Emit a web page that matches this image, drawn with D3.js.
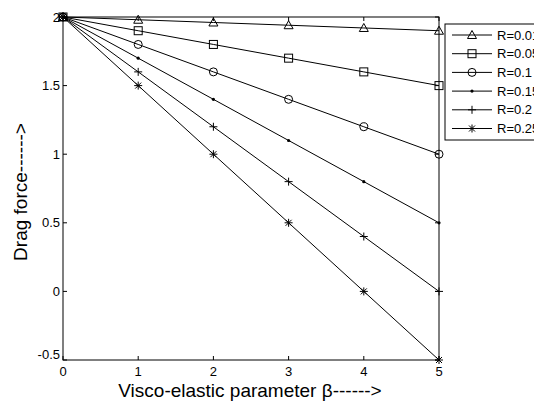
<!DOCTYPE html>
<html>
<head>
<meta charset="utf-8">
<script src="https://cdn.jsdelivr.net/npm/d3@7"></script>
<style>
  html, body { margin: 0; padding: 0; background: #fff; }
  svg { display: block; }
</style>
</head>
<body>
<svg id="chart" width="534" height="402"></svg>
<script>
// Drag force versus visco-elastic parameter for several R values
const betaValues = [0, 1, 2, 3, 4, 5];
const seriesNames = ["R=0.01", "R=0.05", "R=0.1", "R=0.15", "R=0.2", "R=0.25"];
const seriesMarkers = ["triangle", "square", "circle", "dot", "plus", "star"];
const dragR001 = [2, 1.98, 1.96, 1.94, 1.92, 1.90];
const dragR005 = [2, 1.9, 1.8, 1.7, 1.6, 1.5];
const dragR010 = [2, 1.8, 1.6, 1.4, 1.2, 1.0];
const dragR015 = [2, 1.7, 1.4, 1.1, 0.8, 0.5];
const dragR020 = [2, 1.6, 1.2, 0.8, 0.4, 0.0];
const dragR025 = [2, 1.5, 1.0, 0.5, 0.0, -0.5];
const xTicks = [0, 1, 2, 3, 4, 5];
const yTicks = [-0.5, 0, 0.5, 1, 1.5, 2];

const seriesValues = [dragR001, dragR005, dragR010, dragR015, dragR020, dragR025];

(function () {
const svg = d3.select("#chart");
const font = "Arial, 'Liberation Sans', Helvetica, sans-serif";

const plotLeft = 63, plotRight = 439, plotTop = 17, plotBottom = 360;
const x = d3.scaleLinear().domain([0, 5]).range([plotLeft, plotRight]);
const y = d3.scaleLinear().domain([-0.5, 2]).range([plotBottom, plotTop]);

// Marker drawing
function drawMarker(g, type, cx, cy) {
  const s = 4;
  if (type === "triangle") {
    g.append("path")
      .attr("d", `M${cx},${cy - s - 0.5}L${cx + s + 0.5},${cy + s - 0.5}L${cx - s - 0.5},${cy + s - 0.5}Z`)
      .attr("fill", "none").attr("stroke", "#000").attr("stroke-width", 1);
  } else if (type === "square") {
    g.append("rect").attr("x", cx - s).attr("y", cy - s).attr("width", 2 * s).attr("height", 2 * s)
      .attr("fill", "none").attr("stroke", "#000").attr("stroke-width", 1);
  } else if (type === "circle") {
    g.append("circle").attr("cx", cx).attr("cy", cy).attr("r", s)
      .attr("fill", "none").attr("stroke", "#000").attr("stroke-width", 1);
  } else if (type === "dot") {
    g.append("circle").attr("cx", cx).attr("cy", cy).attr("r", 1.6).attr("fill", "#000");
  } else if (type === "plus") {
    g.append("path").attr("d", `M${cx - s},${cy}H${cx + s}M${cx},${cy - s}V${cy + s}`)
      .attr("stroke", "#000").attr("stroke-width", 1);
  } else if (type === "star") {
    const d = s * 0.75;
    g.append("path")
      .attr("d", `M${cx - s},${cy}H${cx + s}M${cx},${cy - s}V${cy + s}M${cx - d},${cy - d}L${cx + d},${cy + d}M${cx - d},${cy + d}L${cx + d},${cy - d}`)
      .attr("stroke", "#000").attr("stroke-width", 1);
  }
}

// Axes box with inward ticks
const axisG = svg.append("g");
axisG.append("rect").attr("x", plotLeft).attr("y", plotTop)
  .attr("width", plotRight - plotLeft).attr("height", plotBottom - plotTop)
  .attr("fill", "none").attr("stroke", "#000").attr("stroke-width", 1);

const tickLen = 4;
xTicks.forEach(t => {
  const px = x(t);
  axisG.append("line").attr("x1", px).attr("x2", px).attr("y1", plotBottom).attr("y2", plotBottom - tickLen)
    .attr("stroke", "#000");
  axisG.append("line").attr("x1", px).attr("x2", px).attr("y1", plotTop).attr("y2", plotTop + tickLen)
    .attr("stroke", "#000");
  axisG.append("text").attr("x", px).attr("y", 376).attr("text-anchor", "middle")
    .attr("font-family", font).attr("font-size", 13).text(t);
});
yTicks.forEach(t => {
  const py = y(t);
  axisG.append("line").attr("x1", plotLeft).attr("x2", plotLeft + tickLen).attr("y1", py).attr("y2", py)
    .attr("stroke", "#000");
  axisG.append("line").attr("x1", plotRight).attr("x2", plotRight - tickLen).attr("y1", py).attr("y2", py)
    .attr("stroke", "#000");
  axisG.append("text").attr("x", plotLeft - 3).attr("y", t === -0.5 ? py - 1 : py + 4.5).attr("text-anchor", "end")
    .attr("font-family", font).attr("font-size", 13).text(t);
});

// Series lines and markers
const line = d3.line().x((d, i) => x(betaValues[i])).y(d => y(d));
const plotG = svg.append("g");
seriesValues.forEach((vals, k) => {
  plotG.append("path").datum(vals).attr("d", line)
    .attr("fill", "none").attr("stroke", "#000").attr("stroke-width", 1);
  vals.forEach((v, i) => drawMarker(plotG, seriesMarkers[k], x(betaValues[i]), y(v)));
});

// Axis titles
svg.append("text").attr("x", 250).attr("y", 397).attr("text-anchor", "middle")
  .attr("font-family", font).attr("font-size", 19).text("Visco-elastic parameter β------>");
svg.append("text").attr("transform", "translate(27,192) rotate(-90)").attr("text-anchor", "middle")
  .attr("font-family", font).attr("font-size", 19).text("Drag force------>");

// Legend
const legX = 445, legY = 24, legW = 110, legH = 116;
const legG = svg.append("g");
legG.append("rect").attr("x", legX).attr("y", legY).attr("width", legW).attr("height", legH)
  .attr("fill", "#fff").attr("stroke", "#000").attr("stroke-width", 1);
seriesNames.forEach((name, k) => {
  const ly = 35 + k * 18.7;
  legG.append("line").attr("x1", 452).attr("x2", 492).attr("y1", ly).attr("y2", ly)
    .attr("stroke", "#000").attr("stroke-width", 1);
  drawMarker(legG, seriesMarkers[k], 472, ly);
  legG.append("text").attr("x", 497).attr("y", ly + 4.5).attr("font-family", font)
    .attr("font-size", 13).text(name);
});
})();
</script>
</body>
</html>
